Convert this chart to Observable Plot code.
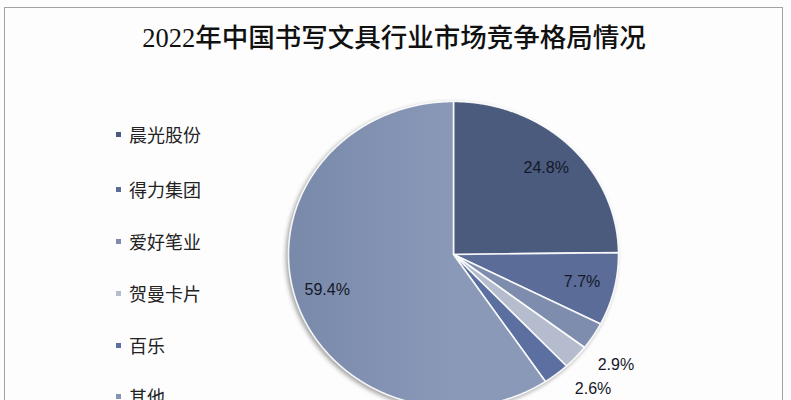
<!DOCTYPE html>
<html>
<head>
<meta charset="utf-8">
<script src="https://cdn.jsdelivr.net/npm/d3@7"></script>
<script src="https://cdn.jsdelivr.net/npm/@observablehq/plot@0.6"></script>
<style>
  html, body { margin: 0; padding: 0; background: #ffffff; }
  #wrap { position: relative; width: 791px; height: 400px; overflow: hidden; background: #fdfdfe; }
  #frame { position: absolute; left: 4px; top: 7px; width: 779px; height: 420px; border: 1.5px solid #a3a3a3; box-sizing: border-box; pointer-events: none; }
  #title { position: absolute; left: 0; top: 0; width: 788px; height: 70px; text-align: center;
           font-family: "Liberation Serif", "Noto Sans CJK SC", serif; font-size: 26.5px; font-weight: 500;
           line-height: 26px; padding-top: 25px; box-sizing: border-box; color: #111; }
  #chart { position: absolute; left: 0; top: 70px; }
  #legend { position: absolute; left: 0; top: 0; }
  .item { position: absolute; left: 116px; height: 20px; display: flex; align-items: center;
          font-family: "Noto Sans CJK SC", sans-serif; font-size: 18px; color: #222; white-space: nowrap; }
  .sw { width: 5px; height: 5px; margin-right: 8px; }
</style>
</head>
<body>
<div id="wrap">
  <div id="title"></div>
  <div id="chart"></div>
  <div id="legend"></div>
  <div id="frame"></div>
</div>
<script>
// ---- data ----
const titleText = "2022年中国书写文具行业市场竞争格局情况";
const names  = ["晨光股份", "得力集团", "爱好笔业", "贺曼卡片", "百乐", "其他"];
const shares = [24.8, 7.7, 2.9, 2.6, 2.6, 59.4];
const colors = ["#4b5b7d", "#5a6c97", "#7e8dae", "#b4bccd", "#5b6fa0", "#8494b4"];

// ---- build slice outlines (unit circle, clockwise from 12 o'clock) ----
const total = d3.sum(shares);
let acc = 0;
const slices = names.map((name, i) => {
  const a0 = acc / total * 2 * Math.PI;
  acc += shares[i];
  const a1 = acc / total * 2 * Math.PI;
  return { name, value: shares[i], a0, a1, mid: (a0 + a1) / 2 };
});
const pts = [];
for (const s of slices) {
  pts.push({ name: s.name, x: 0, y: 0 });
  const n = Math.max(2, Math.ceil((s.a1 - s.a0) / (Math.PI / 720)));
  for (let k = 0; k <= n; k++) {
    const a = s.a0 + (s.a1 - s.a0) * k / n;
    pts.push({ name: s.name, x: Math.sin(a), y: Math.cos(a) });
  }
  pts.push({ name: s.name, x: 0, y: 0 });
}
const labels = slices.map(s => {
  const inside = s.value > 5;
  const r = inside ? 0.8 : 1.22;
  const a = inside ? s.mid : s.mid + 4 * Math.PI / 180;
  return { text: s.value.toFixed(1) + "%", x: r * Math.sin(a), y: r * Math.cos(a) };
});

// gradient id for the big slice
const fillRange = colors.map((c, i) => names[i] === "其他" ? "url(#gOther)" : c);

const cx = 453, cy = 184, rx = 165, ry = 153;
const plot = Plot.plot({
  width: 791,
  height: 330,
  margin: 0,
  style: { background: "transparent", overflow: "hidden" },
  x: { domain: [-1, 1], range: [cx - rx, cx + rx], axis: null },
  y: { domain: [-1, 1], range: [cy + ry, cy - ry], axis: null },
  color: { domain: names, range: fillRange },
  marks: [
    Plot.line(pts, { x: "x", y: "y", z: "name", fill: "name", stroke: "#ffffff", strokeWidth: 1.6, strokeOpacity: 0.9, strokeLinejoin: "round", curve: "linear" }),
    Plot.text(labels, { x: "x", y: "y", text: "text", fontSize: 16, fill: "#141828", fontFamily: "Liberation Sans, Arial, sans-serif", textAnchor: "middle" })
  ]
});
// gradient definition
const ns = "http://www.w3.org/2000/svg";
const defs = document.createElementNS(ns, "defs");
defs.innerHTML = `<linearGradient id="gOther" gradientUnits="userSpaceOnUse" x1="${cx - rx}" y1="0" x2="${cx}" y2="0">
  <stop offset="0" stop-color="#7989aa"/><stop offset="1" stop-color="#8a99b8"/></linearGradient>`;
plot.insertBefore(defs, plot.firstChild);
const lineG = plot.querySelector('g[aria-label="line"]');
if (lineG) lineG.style.filter = "drop-shadow(-2px 2px 2px rgba(0,0,0,0.35))";
document.getElementById("chart").appendChild(plot);

document.getElementById("title").textContent = titleText;

// legend
const legendY = [134, 189, 241, 293, 345, 396];
const leg = document.getElementById("legend");
names.forEach((n, i) => {
  const el = document.createElement("div");
  el.className = "item";
  el.style.top = (legendY[i] - 10) + "px";
  el.innerHTML = `<span class="sw" style="background:${colors[i]}"></span><span>${n}</span>`;
  leg.appendChild(el);
});
</script>
</body>
</html>
